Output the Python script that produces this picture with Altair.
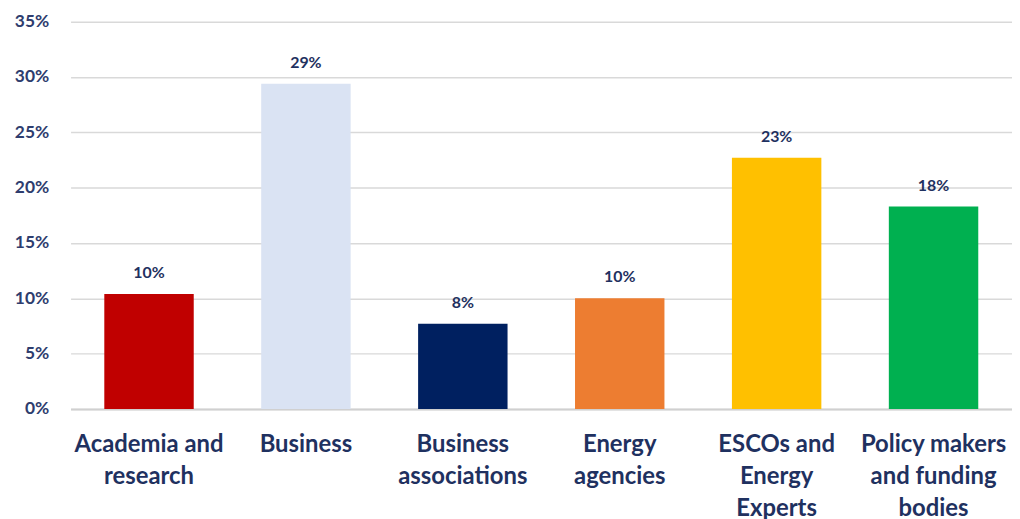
import altair as alt
import pandas as pd

categories = ["Academia and research", "Business", "Business associations",
              "Energy agencies", "ESCOs and Energy Experts",
              "Policy makers and funding bodies"]
label_lines = ["Academia and|research", "Business", "Business|associations",
               "Energy|agencies", "ESCOs and|Energy|Experts",
               "Policy makers|and funding|bodies"]
values = [10.4, 29.4, 7.7, 10.0, 22.7, 18.3]
value_labels = ["10%", "29%", "8%", "10%", "23%", "18%"]
colors = ["#C00000", "#DAE3F3", "#002060", "#ED7D31", "#FFC000", "#00B050"]

df = pd.DataFrame({
    "category": label_lines,
    "value": values,
    "label": value_labels,
    "color": colors,
})

FONT = "Lato"
NAVY = "#1F3160"

x = alt.X("category:N", sort=label_lines, title=None,
          scale=alt.Scale(paddingInner=0.43, paddingOuter=0.215),
          axis=alt.Axis(labelExpr="split(datum.value, '|')", labelAngle=0,
                        labelFontSize=24, labelFont=FONT, labelFontWeight="bold",
                        labelColor=NAVY, labelPadding=43, labelLineHeight=32,
                        ticks=False, grid=False, domain=True,
                        domainColor="#D0D0D0", domainWidth=2,
                        labelBaseline="alphabetic"))

y = alt.Y("value:Q", title=None,
          scale=alt.Scale(domain=[0, 35], nice=False),
          axis=alt.Axis(values=[0, 5, 10, 15, 20, 25, 30, 35],
                        labelExpr="datum.value + '%'", labelFontSize=17.5,
                        labelFont=FONT, labelFontWeight="bold", labelColor="#2E3D6E",
                        labelPadding=22, ticks=False, domain=False,
                        gridColor="#D9D9D9", gridWidth=1.5))

bars = alt.Chart(df).mark_bar().encode(
    x=x, y=y, color=alt.Color("color:N", scale=None))

text = alt.Chart(df).mark_text(
    dy=-13, baseline="bottom", fontSize=16, font=FONT, fontWeight="bold", color=NAVY
).encode(x=alt.X("category:N", sort=label_lines), y=alt.Y("value:Q"), text="label:N")

chart = (bars + text).properties(
    width=948, height=390,
    background="white",
    autosize=alt.AutoSizeParams(type="none"),
    padding={"left": 63, "top": 12, "right": 0, "bottom": 109},
).configure_view(strokeWidth=0, stroke="transparent").configure_axisY(domain=False)

chart.save("out.html", embed_options={"renderer": "svg", "actions": False})
